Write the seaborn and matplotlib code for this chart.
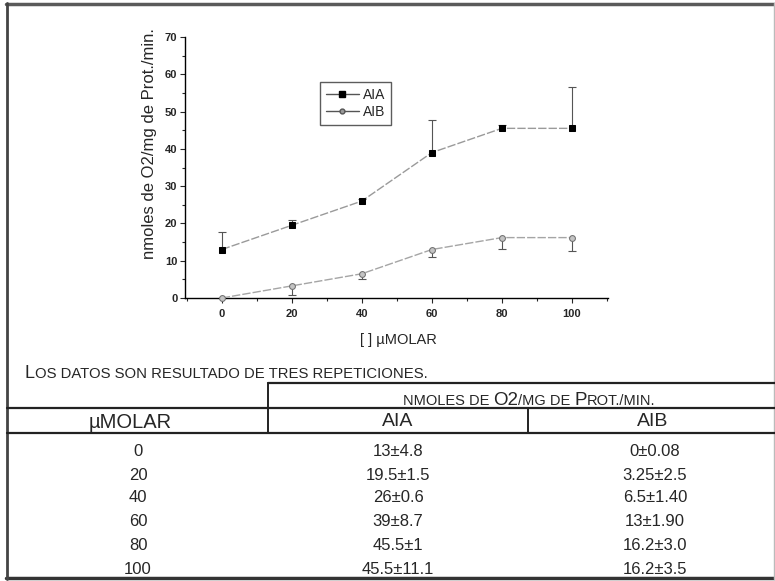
import matplotlib
matplotlib.use("Agg")
import matplotlib.pyplot as plt
from matplotlib.lines import Line2D
from matplotlib.ticker import MultipleLocator
import seaborn as sns
import pandas as pd

# values as printed in the table under the chart
conc = [0, 20, 40, 60, 80, 100]
aia_mean_txt = ["13", "19.5", "26", "39", "45.5", "45.5"]
aia_err_txt = ["4.8", "1.5", "0.6", "8.7", "1", "11.1"]
aib_mean_txt = ["0", "3.25", "6.5", "13", "16.2", "16.2"]
aib_err_txt = ["0.08", "2.5", "1.40", "1.90", "3.0", "3.5"]

aia_mean = [float(s) for s in aia_mean_txt]
aia_err = [float(s) for s in aia_err_txt]
aib_mean = [float(s) for s in aib_mean_txt]
aib_err = [float(s) for s in aib_err_txt]

W, H = 775, 581

sns.set_style("ticks")
plt.rcParams['font.family'] = ['Liberation Sans', 'DejaVu Sans']

df = pd.DataFrame({
    "conc": conc + conc,
    "val": aia_mean + aib_mean,
    "serie": ["AIA"] * len(conc) + ["AIB"] * len(conc),
})

fig = plt.figure(figsize=(W / 100, H / 100), dpi=100)
ax = fig.add_axes([185 / W, 1 - 298 / H, 423 / W, 261 / H])

sns.lineplot(data=df, x="conc", y="val", hue="serie", style="serie",
             markers={"AIA": "s", "AIB": "o"},
             dashes={"AIA": (6, 1.5), "AIB": (6, 1.5)},
             palette={"AIA": "#9a9a9a", "AIB": "#a5a5a5"},
             linewidth=1, markersize=5, legend=False, ax=ax, zorder=3)
for ln, fc, ec, ms in zip(ax.lines[:2], ["black", "#c4c4c4"], ["black", "#707070"], [4.8, 4.2]):
    ln.set_markerfacecolor(fc)
    ln.set_markeredgecolor(ec)
    ln.set_markersize(ms)
    ln.set_clip_on(False)

# one-sided error bars: AIA upward, AIB downward
aia_top = [m + e for m, e in zip(aia_mean, aia_err)]
aib_bot = [m - e for m, e in zip(aib_mean, aib_err)]
ax.vlines(conc, aia_mean, aia_top, color="#555555", lw=0.8, zorder=2)
ax.scatter(conc, aia_top, marker="_", s=30, color="#555555", lw=0.8, zorder=2)
ax.vlines(conc, aib_bot, aib_mean, color="#555555", lw=0.8, zorder=2, clip_on=False)
ax.scatter(conc, aib_bot, marker="_", s=30, color="#555555", lw=0.8, zorder=2, clip_on=False)

ax.set_xlim(-10.5, 110.3)
ax.set_ylim(0, 70)
ax.xaxis.set_major_locator(MultipleLocator(20))
ax.xaxis.set_minor_locator(MultipleLocator(10))
ax.yaxis.set_major_locator(MultipleLocator(10))
ax.yaxis.set_minor_locator(MultipleLocator(5))
ax.tick_params(which="major", direction="out", length=3.5, width=0.8, labelsize=8, pad=2)
ax.tick_params(which="minor", direction="out", length=2, width=0.8)
ax.tick_params(axis="x", which="major", pad=4.5)
for lab in ax.get_xticklabels() + ax.get_yticklabels():
    lab.set_fontweight("bold")
sns.despine(ax=ax)
for sp in ["left", "bottom"]:
    ax.spines[sp].set_linewidth(1)
    ax.spines[sp].set_color("black")

ax.set_ylabel("nmoles de O2/mg de Prot./min.", fontsize=12)
ax.yaxis.set_label_coords(-0.066, 0.592)
ax.set_xlabel("[ ] µMOLAR", fontsize=10.5)
ax.xaxis.set_label_coords(0.5035, -0.135)

handles = [Line2D([0], [0], color="#555555", lw=1, marker="s", ms=4, mfc="black", mec="black"),
           Line2D([0], [0], color="#555555", lw=1, marker="o", ms=3.5, mfc="#9a9a9a", mec="#555555")]
leg = fig.legend(handles, ["AIA", "AIB"], loc="upper left",
                 bbox_to_anchor=(320 / W, 1 - 82 / H), fontsize=10,
                 frameon=True, fancybox=False, edgecolor="#333333",
                 handlelength=2.4, handletextpad=0.3, borderpad=0.4,
                 labelspacing=0.25, borderaxespad=0)
leg.get_frame().set_linewidth(1)


def fx(x):
    return x / W


def fy(y):
    return 1 - y / H


def hline(x0, x1, y, lw=1.6, color="#222222"):
    fig.add_artist(Line2D([fx(x0), fx(x1)], [fy(y), fy(y)], transform=fig.transFigure,
                          color=color, lw=lw))


def vline(x, y0, y1, lw=1.4, color="#222222"):
    fig.add_artist(Line2D([fx(x), fx(x)], [fy(y0), fy(y1)], transform=fig.transFigure,
                          color=color, lw=lw))


rend = fig.canvas.get_renderer()


def caps_text(x, y, parts, ha="left"):
    arts = []
    cx = x
    for s, size in parts:
        t = fig.text(fx(cx), fy(y), s, fontsize=size, va="baseline", ha="left")
        cx += t.get_window_extent(rend).width
        arts.append(t)
    if ha == "center":
        shift = (cx - x) / 2
        for t in arts:
            px, py = t.get_position()
            t.set_position((px - shift / W, py))


# outer frame of the scanned page
hline(6, W, 4, lw=2.5, color="#5a5a5a")
hline(6, W, 578, lw=2.5, color="#333333")
vline(7, 3, 579, lw=2, color="#444444")
vline(774, 3, 579, lw=1, color="#bbbbbb")

caps_text(25, 378, [("L", 13), ("OS DATOS SON RESULTADO DE TRES REPETICIONES.", 10.7)])

# table
hline(268, W, 383)
hline(7, W, 408)
hline(7, W, 433)
vline(268, 383, 433)
vline(528, 408, 433)

caps_text(529, 405, [("NMOLES DE ", 10.5), ("O2", 13.5), ("/MG DE ", 10.5), ("P", 13.5), ("ROT./MIN.", 10.5)],
          ha="center")

fig.text(fx(130), fy(422), "µMOLAR", fontsize=14.5, ha="center", va="center")
fig.text(fx(398), fy(422), "AIA", fontsize=14, ha="center", va="center")
fig.text(fx(653), fy(422), "AIB", fontsize=14, ha="center", va="center")

row_y = [452, 475, 498, 522, 546, 570]
for c, am, ae, bm, be, yy in zip(conc, aia_mean_txt, aia_err_txt, aib_mean_txt, aib_err_txt, row_y):
    fig.text(fx(138), fy(yy), str(c), fontsize=12, ha="center", va="center")
    fig.text(fx(398), fy(yy), f"{am}±{ae}", fontsize=12, ha="center", va="center")
    fig.text(fx(655), fy(yy), f"{bm}±{be}", fontsize=12, ha="center", va="center")

fig.savefig("out.png", dpi=100)
